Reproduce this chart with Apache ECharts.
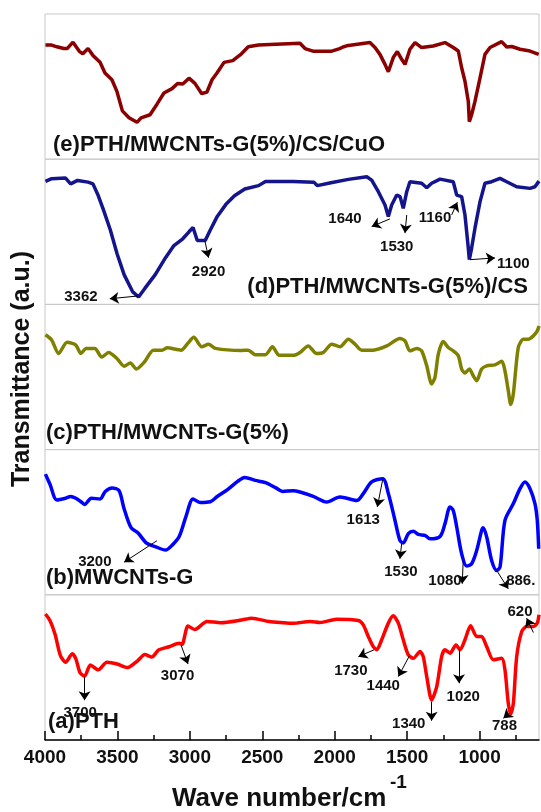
<!DOCTYPE html>
<html>
<head>
<meta charset="utf-8">
<script src="https://cdn.jsdelivr.net/npm/echarts@6/dist/echarts.min.js"></script>
<style>
html,body{margin:0;padding:0;background:#fff;}
#chart{width:541px;height:812px;}
</style>
</head>
<body>
<div id="chart"></div>
<script>
// ---------- DATA (wavenumber cm-1, transmittance a.u. per panel 0..100) ----------
const tickLabels = [4000, 3500, 3000, 2500, 2000, 1500, 1000];
const minorTicks = [3750, 3250, 2750, 2250, 1750, 1250, 750];

const panelNames = ['(e)PTH/MWCNTs-G(5%)/CS/CuO', '(d)PTH/MWCNTs-G(5%)/CS', '(c)PTH/MWCNTs-G(5%)', '(b)MWCNTs-G', '(a)PTH'];

// (e) PTH/MWCNTs-G(5%)/CS/CuO
const wnE = [3997,3954,3918,3870,3847,3807,3763,3739,3703,3669,3620,3586,3538,3503,3466,3420,3365,3337,3275,3227,3179,3123,3085,3049,3006,2965,2918,2882,2847,2813,2764,2704,2644,2597,2526,2406,2240,2205,2145,2026,1966,1943,1918,1757,1722,1688,1653,1630,1596,1568,1538,1515,1481,1446,1400,1320,1239,1182,1147,1124,1101,1078,1071,1055,1032,997,963,928,848,813,778,721,652,592];
const trE = [78.6,78.6,77.4,76.2,76.2,80.6,74.3,72.6,76.2,71.5,66.7,59.4,54.7,46.5,33.3,28.5,25.4,28.5,30.6,37.9,45.6,48.6,52.2,51.8,55.8,52.2,45.1,46.3,54.7,59.4,66.7,67.9,72.6,77.4,78.6,79.2,79.8,76.2,74.3,74.3,76.2,77.3,78.1,80.3,76.9,72.2,65.3,60.2,70,74.1,68.8,65.3,75.7,80.3,76.9,78,80.3,76.9,74.5,63,53.7,39.8,25.9,30.6,39.8,56,72.2,76.9,81,77.3,77.6,75.7,74.5,72.2];

// (d) PTH/MWCNTs-G(5%)/CS
const wnD = [3997,3954,3858,3823,3775,3703,3669,3632,3597,3549,3502,3454,3394,3354,3311,3239,3168,3110,3049,3006,2978,2949,2894,2859,2811,2751,2692,2621,2526,2478,2288,2144,2121,2026,1906,1779,1745,1699,1653,1630,1607,1572,1549,1527,1503,1481,1400,1365,1331,1273,1182,1158,1124,1101,1078,1071,1055,1032,997,963,917,859,813,744,652,618,590];
const trD = [84.7,86.6,87,83,85.4,84.2,83,74.8,65.3,51.2,34.7,20.5,8.6,5.1,11,20.5,32.2,40.5,45.2,50,53,44,44,51.2,60.6,68.9,74.8,79.5,81.8,84.7,84.7,84.2,81.8,83.8,86.1,87.9,85.6,77.6,68.5,60.5,68.5,75.3,74.2,66.2,77.6,84.5,83.4,80.3,83.4,86.3,84.5,75.3,74.2,61.6,38.8,30.8,38.8,52.5,70.8,83.4,84.5,86.8,84.5,81,79.9,81,84.9];

// (c) PTH/MWCNTs-G(5%)
const wnC = [3997,3954,3906,3847,3787,3752,3716,3656,3609,3561,3502,3454,3411,3370,3311,3252,3192,3156,3061,3014,2973,2918,2871,2823,2644,2597,2549,2478,2430,2383,2287,2240,2183,2125,2079,2021,1964,1906,1860,1814,1734,1641,1550,1515,1481,1434,1400,1365,1331,1308,1285,1251,1216,1182,1147,1124,1101,1071,1044,1020,986,951,894,847,825,802,785,767,733,698,664,629,602,590];
const trC = [79.1,75.5,66.2,74,72,66.2,69.7,69.7,63.7,66.8,62.6,57.4,59.7,55.5,60.7,68.5,68.5,70.1,68.5,73.2,77.3,70.8,72.5,69.7,68.3,68.5,65.4,65.4,70.8,64.9,64.9,66.9,71.4,66.2,66.9,72.6,70.8,76,72.6,68.5,68.5,71.4,76.5,74.9,68,69.7,68,57.7,45.2,49.8,65.8,74.5,70.3,68,64.6,55.5,52.7,55.5,50.9,47.5,55.5,57.7,58.4,60.8,54.3,40.6,31,38.4,70.3,76,76,78.3,81.7,85.1];

// (b) MWCNTs-G
const wnB = [3997,3965,3918,3858,3823,3787,3752,3727,3680,3620,3584,3537,3489,3454,3406,3359,3299,3239,3168,3121,3073,3025,2978,2930,2859,2811,2740,2668,2621,2549,2478,2406,2359,2287,2240,2148,2055,1964,1848,1803,1745,1669,1630,1584,1550,1527,1492,1458,1423,1377,1342,1273,1239,1204,1182,1158,1124,1089,1055,1020,986,975,951,917,882,859,825,767,721,687,652,618,602,592];
const trB = [83.1,76,65.3,66.5,67.7,66.5,64.1,62.2,66.5,66,71.2,73.6,71.7,59.3,46.2,42.7,35.6,33.2,30.8,34.3,40.3,54.6,66,63.6,64.1,67.7,72.4,78.3,80.8,78.8,77.2,73.6,71.2,71.7,70.8,67.8,63.9,67.4,65,69.7,77.7,80,69.7,51.2,37.4,35.7,42.1,43.7,41.6,40.9,38.6,40.2,49,60.5,58.1,46.7,28.3,19.8,21.4,30.6,44.3,46.2,39.8,23.7,16.8,19.1,51.2,62.8,73.1,77.7,73.1,62.8,51.2,31.7];

// (a) PTH
const wnA = [3997,3965,3930,3894,3858,3811,3787,3758,3727,3687,3632,3573,3502,3430,3359,3311,3263,3216,3144,3073,3054,3013,2966,2882,2787,2644,2573,2454,2359,2287,2169,2102,1987,1837,1803,1768,1734,1710,1676,1630,1596,1561,1527,1492,1458,1411,1389,1365,1331,1296,1262,1239,1204,1163,1135,1101,1062,1020,986,951,905,847,825,802,785,767,744,709,675,629,602,590];
const trA = [86.8,82.1,72.6,58.3,53.5,59.4,55.9,46.3,44,51.6,48.3,53.5,52.3,49.9,54.7,58.8,57.1,61.9,64.2,66.6,65.9,78.5,76.1,81.6,80.8,82.6,83.9,81.6,80.8,80.4,81.6,80.9,83.2,82.3,79.3,71.2,64.3,62.1,69,80.5,85.5,80.5,69,58.6,56.3,60.9,57.4,43.7,27.6,36.8,57.4,62.1,59.8,65.5,62.1,69,78.6,71.2,71.2,64.3,55.2,56.3,48.3,25.3,17.9,25.3,57.4,74.7,78.1,78.1,80.5,86.2];

// peak annotations (label text, label position, arrow start -> arrow end), in data units
const annotE = [];
const annotD = [
  {t:'3362', tx:3752, ty:5.3,  x1:3358, y1:5.8,  x2:3553, y2:3.9},
  {t:'2920', tx:2871, ty:22.3, x1:2896, y1:43.6, x2:2871, y2:32.2},
  {t:'1640', tx:1929, ty:58.6, x1:1619, y1:58.9, x2:1745, y2:53.6},
  {t:'1530', tx:1572, ty:39.9, x1:1503, y1:61.6, x2:1515, y2:49.1},
  {t:'1160', tx:1308, ty:59.9, x1:1193, y1:61.6, x2:1154, y2:70.3},
  {t:'1100', tx:767,  ty:27.6, x1:1066, y1:30.8, x2:894,  y2:32}
];
const annotC = [];
const annotB = [
  {t:'3200', tx:3656, ty:22.5, x1:3228, y1:37.2, x2:3454, y2:22.5},
  {t:'1613', tx:1803, ty:51.9, x1:1669, y1:79.3, x2:1706, y2:60.5},
  {t:'1530', tx:1543, ty:15.7, x1:1538, y1:35.2, x2:1550, y2:24.8},
  {t:'1080', tx:1239, ty:9.9,  x1:1113, y1:23.7, x2:1120, y2:7.6},
  {t:'886.', tx:716,  ty:9.9,  x1:882,  y1:16.8, x2:802,  y2:4.1}
];
const annotA = [
  {t:'3700', tx:3757, ty:19,   x1:3727, y1:43.5, x2:3727, y2:27.4},
  {t:'3070', tx:3085, ty:44.1, x1:3061, y1:65.4, x2:3013, y2:52.4},
  {t:'1730', tx:1889, ty:47.7, x1:1729, y1:62.1, x2:1837, y2:57.4},
  {t:'1440', tx:1665, ty:37.4, x1:1485, y1:57.9, x2:1561, y2:43.7},
  {t:'1340', tx:1489, ty:11.4, x1:1331, y1:26.4, x2:1331, y2:13.3},
  {t:'1020', tx:1113, ty:29.9, x1:1142, y1:62.6, x2:1142, y2:39.1},
  {t:'788',  tx:828,  ty:9.8,  x1:795,  y1:18.4, x2:836,  y2:15},
  {t:'620',  tx:721,  ty:88.3, x1:629,  y1:74,   x2:675,  y2:83.9}
];

// ---------- CHART ----------
const FONT = '"Liberation Sans", Arial, sans-serif';
const panels = [
  {wn: wnE, tr: trE, color: '#8b0000', ann: annotE, smooth: false},
  {wn: wnD, tr: trD, color: '#14148c', ann: annotD, smooth: false},
  {wn: wnC, tr: trC, color: '#808000', ann: annotC, smooth: 0.25},
  {wn: wnB, tr: trB, color: '#0000ff', ann: annotB, smooth: 0.3},
  {wn: wnA, tr: trA, color: '#ff0000', ann: annotA, smooth: 0.25}
];
const TOP = 14, PH = 145.2, XMIN = 590, XMAX = 4000;

const grids = [], xAxes = [], yAxes = [], series = [];
panels.forEach((p, i) => {
  const last = i === panels.length - 1;
  grids.push({left: 45, right: 2, top: TOP + i * PH, height: PH, show: true,
    borderColor: '#c8c8c8', borderWidth: 1, backgroundColor: 'transparent'});
  xAxes.push({type: 'value', gridIndex: i, min: XMIN, max: XMAX, inverse: true,
    axisLine: {show: last, onZero: false, lineStyle: {color: '#000', width: 1.5}},
    axisTick: {show: last, inside: true, length: 9, customValues: tickLabels, lineStyle: {color: '#000', width: 1.5}},
    axisLabel: {show: last, customValues: tickLabels, margin: 8, color: '#111',
      fontSize: 19, fontWeight: 'bold', fontFamily: FONT, formatter: v => String(v)},
    splitLine: {show: false}});
  yAxes.push({type: 'value', gridIndex: i, min: 0, max: 100, show: false, splitLine: {show: false}});
  series.push({
    type: 'line', xAxisIndex: i, yAxisIndex: i,
    data: p.wn.map((w, k) => [w, p.tr[k]]),
    showSymbol: false, smooth: p.smooth, silent: true,
    lineStyle: {color: p.color, width: 3.5}, itemStyle: {color: p.color},
    markLine: {silent: true, symbol: ['none', 'arrow'], symbolSize: 9, precision: 2,
      label: {show: false}, lineStyle: {color: '#000', width: 1, type: 'solid'},
      itemStyle: {color: '#000'},
      emphasis: {disabled: true},
      data: p.ann.map(a => [{coord: [a.x1, a.y1]}, {coord: [a.x2, a.y2]}])},
    markPoint: {silent: true, symbol: 'circle', symbolSize: 0,
      label: {show: true, position: 'inside', formatter: '{b}', color: '#111',
        fontSize: 15, fontWeight: 'bold', fontFamily: FONT},
      data: p.ann.map(a => ({name: a.t, coord: [a.tx, a.ty]}))}
  });
});
// minor ticks on the bottom axis
xAxes.push({type: 'value', gridIndex: 4, min: XMIN, max: XMAX, inverse: true, position: 'bottom',
  axisLine: {show: false}, axisLabel: {show: false}, splitLine: {show: false},
  axisTick: {show: true, inside: true, length: 5, customValues: minorTicks, lineStyle: {color: '#000', width: 1.5}}});

const labelStyle = {font: 'bold 22px ' + FONT, fill: '#111'};
const graphics = [
  {type: 'text', x: 53, y: 145, style: Object.assign({text: panelNames[0], align: 'left', verticalAlign: 'middle'}, labelStyle)},
  {type: 'text', x: 528, y: 287, style: Object.assign({text: panelNames[1], align: 'right', verticalAlign: 'middle'}, labelStyle)},
  {type: 'text', x: 46, y: 433, style: Object.assign({text: panelNames[2], align: 'left', verticalAlign: 'middle'}, labelStyle)},
  {type: 'text', x: 46, y: 578, style: Object.assign({text: panelNames[3], align: 'left', verticalAlign: 'middle'}, labelStyle)},
  {type: 'text', x: 48, y: 722, style: Object.assign({text: panelNames[4], align: 'left', verticalAlign: 'middle'}, labelStyle)},
  {type: 'text', x: 22, y: 369, rotation: Math.PI / 2,
    style: {text: 'Transmittance (a.u.)', font: 'bold 25px ' + FONT, fill: '#111', align: 'center', verticalAlign: 'middle'}},
  {type: 'text', x: 172, y: 799,
    style: {text: 'Wave number/cm', font: 'bold 26px ' + FONT, fill: '#111', align: 'left', verticalAlign: 'middle'}},
  {type: 'text', x: 390, y: 783,
    style: {text: '-1', font: 'bold 19px ' + FONT, fill: '#111', align: 'left', verticalAlign: 'middle'}}
];

const chart = echarts.init(document.getElementById('chart'), null, {renderer: 'canvas'});
chart.setOption({
  animation: false,
  backgroundColor: '#fff',
  grid: grids, xAxis: xAxes, yAxis: yAxes, series: series, graphic: graphics
});
</script>
</body>
</html>
